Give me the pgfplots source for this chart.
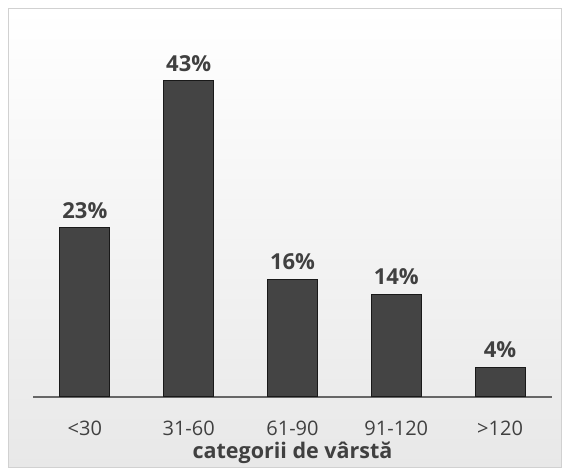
\documentclass[border=0pt]{standalone}
\usepackage{pgfplots}
\pgfplotsset{compat=1.18}
\usepackage{fontspec}
\setmainfont{Open Sans}
\definecolor{txt}{HTML}{404040}
\definecolor{barmid}{HTML}{444444}
\begin{document}
\begin{tikzpicture}[x=1pt,y=1pt]
\path (0,0) rectangle (569,470);
\shade[top color=white, bottom color=black!9, draw=black!18, line width=1pt] (8,2) rectangle (561,461);
\begin{axis}[
  at={(33pt,73pt)}, anchor=south west,
  scale only axis, width=519pt, height=367.5pt,
  xmin=-0.5, xmax=4.5, ymin=0, ymax=50,
  ybar, bar width=50pt,
  axis x line*=bottom, axis y line=none,
  x axis line style={draw=black!60, line width=1.5pt, -},
  xtick=data, xtick style={draw=none},
  xticklabels={{<30},{31-60},{61-90},{91-120},{>120}},
  xticklabel style={anchor=base, yshift=-34pt, text=txt, font=\fontsize{20}{24}\selectfont},
  xlabel={\textbf{categorii de vârstă}},
  x label style={at={(axis description cs:0.5,0)}, anchor=base, yshift=-62pt, text=txt, font=\fontsize{21.5}{25}\selectfont},
  /pgf/number format/assume math mode=true,
  nodes near coords={\pgfmathprintnumber{\pgfplotspointmeta}\%},
  every node near coord/.append style={font=\bfseries\fontsize{22}{26}\selectfont, text=txt, anchor=south, inner sep=0pt, yshift=9pt},
]
\addplot[draw=black!90, line width=1pt, fill=barmid]
  coordinates {(0,23) (1,43) (2,16) (3,14) (4,4)};
\end{axis}
\end{tikzpicture}
\end{document}
